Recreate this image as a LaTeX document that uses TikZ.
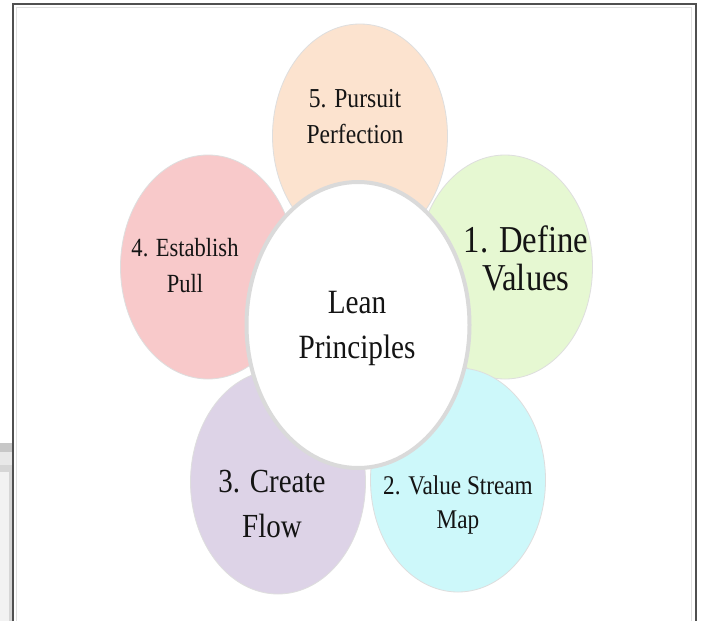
\documentclass[tikz,border=0pt]{standalone}
\usepackage{fontspec}
\setmainfont{Liberation Serif}[FakeStretch=0.86]
\usetikzlibrary{shapes.geometric}
\definecolor{cPeach}{HTML}{FCE3CF}
\definecolor{cGreen}{HTML}{E6F8D2}
\definecolor{cPink}{HTML}{F8C9CA}
\definecolor{cLav}{HTML}{DDD3E7}
\definecolor{cCyan}{HTML}{CDF8FA}
\definecolor{cRing}{HTML}{DADADA}
\definecolor{cFrame}{HTML}{505050}
\definecolor{cText}{HTML}{141414}
\begin{document}
\begin{tikzpicture}[x=1pt,y=-1pt,
  petal/.style={ellipse, inner sep=0pt, minimum width=175pt, minimum height=224pt, draw=black!13, line width=0.8pt},
  hub/.style={ellipse, inner sep=0pt, minimum width=223pt, minimum height=286pt, fill=white, draw=cRing, line width=4pt},
  lbl/.style={align=center, inner sep=0pt, text=cText}]
\useasboundingbox (0,0) rectangle (701,621);
\fill[white] (0,0) rectangle (701,621);
% faint watermark remnant at left edge
\fill[black!22] (0,443) rectangle (12,452);
\fill[black!9] (0,452) rectangle (12,621);
\fill[black!16] (0,465) rectangle (12,621);
\fill[black!5] (0,472) rectangle (9,621);
% frame
\coordinate (fbl) at (13,621);
\coordinate (ftl) at (13,4);
\coordinate (ftr) at (696,4);
\coordinate (fbr) at (696,621);
\draw[black!12, line width=0.8pt] (16,621) -- (16,7.5) -- (691,7.5) -- (691,621);
\draw[cFrame, line width=1.6pt] (fbl) -- (ftl) -- (ftr) -- (fbr);
% petals
\node[petal, fill=cGreen] (p1) at (505,267) {};
\node[petal, fill=cCyan]  (p2) at (458,480) {};
\node[petal, fill=cLav]   (p3) at (278,482) {};
\node[petal, fill=cPink]  (p4) at (208,267) {};
\node[petal, fill=cPeach] (p5) at (360,136) {};
% hub
\node[hub] (hub) at (358,325) {};
% labels
\node[lbl, font=\fontsize{34}{45}\selectfont] (thub) at (357,328) {Lean\\Principles};
\node[lbl, font=\fontsize{38}{38}\selectfont] (t1) at (526,258) {1. Define\\Values};
\node[lbl, font=\fontsize{27}{34}\selectfont] (t2) at (458,505) {2. Value Stream\\Map};
\node[lbl, font=\fontsize{33.7}{44}\selectfont] (t3) at (272,504) {3. Create\\Flow};
\node[lbl, font=\fontsize{26.2}{36}\selectfont] (t4) at (185,266) {4. Establish\\Pull};
\node[lbl, font=\fontsize{27.4}{36}\selectfont] (t5) at (355,117) {5. Pursuit\\Perfection};
\end{tikzpicture}
\end{document}
